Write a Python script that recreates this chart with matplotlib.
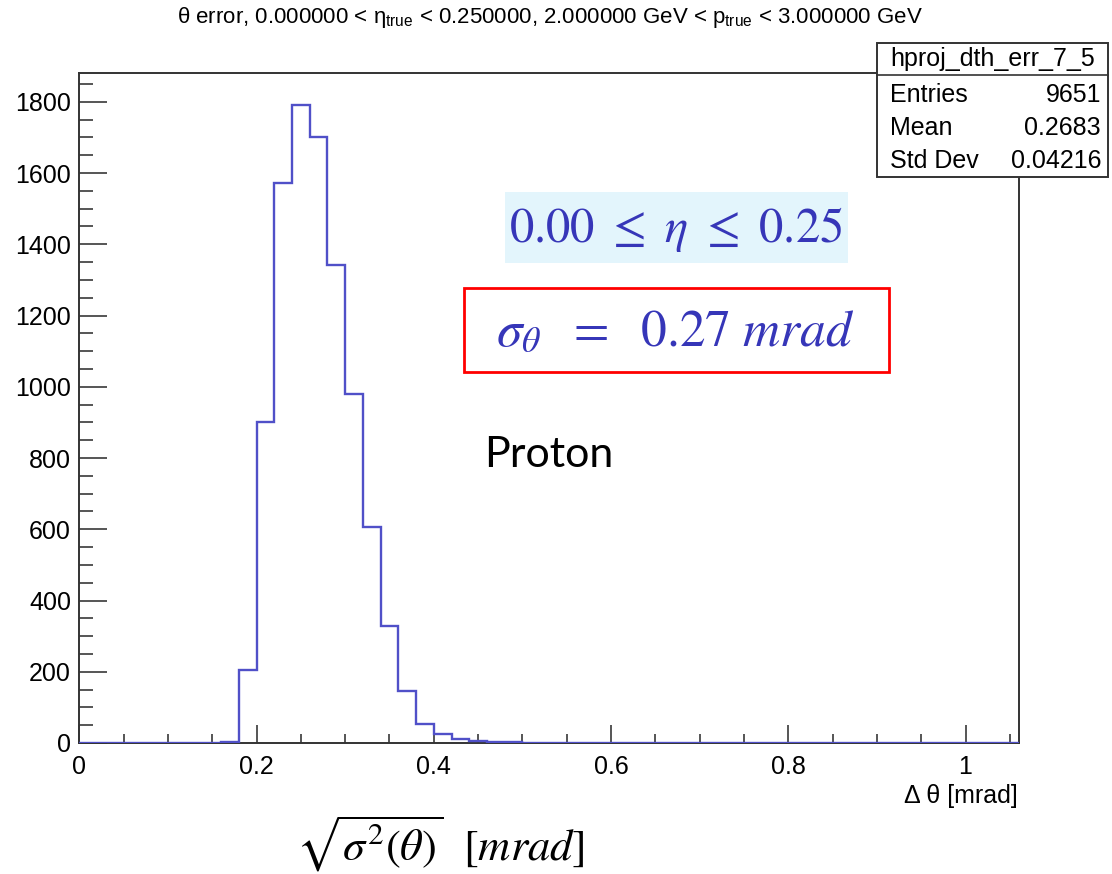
import numpy as np
import matplotlib
matplotlib.use("Agg")
import matplotlib.pyplot as plt
from matplotlib.patches import Rectangle
from matplotlib.lines import Line2D
from matplotlib.ticker import MultipleLocator

# Histogram data (bin width 0.02 mrad, range 0 - 1.06)
bin_width = 0.02
n_bins = 53
first_filled_bin = 8  # bin starting at 0.16
counts_filled = [4, 205, 902, 1572, 1792, 1702, 1343, 980, 606, 328,
                 145, 52, 25, 10, 6, 3, 2]

stats_name = "hproj_dth_err_7_5"
stats_rows = [("Entries", "9651"), ("Mean", "0.2683"), ("Std Dev", "0.04216")]

title = (r"θ error, 0.000000 < $\eta_{\rm true}$ < 0.250000, "
         r"2.000000 GeV < $p_{\rm true}$ < 3.000000 GeV")

plt.rcParams["font.family"] = ["Liberation Sans", "DejaVu Sans"]
plt.rcParams["mathtext.fontset"] = "custom"
plt.rcParams["mathtext.rm"] = "Liberation Sans"
plt.rcParams["mathtext.it"] = "Liberation Sans"

W, H = 1112, 874
fig = plt.figure(figsize=(W / 100, H / 100), dpi=100)


def fx(px):
    return px / W


def fy(py):
    return 1 - py / H


ax = fig.add_axes([fx(79.3), fy(743), fx(1018.7 - 79.3), (743 - 72.7) / H])

counts = np.zeros(n_bins)
counts[first_filled_bin:first_filled_bin + len(counts_filled)] = counts_filled
edges = np.arange(n_bins + 1) * bin_width

ax.stairs(counts, edges, color="#5050C8", lw=1.7, zorder=3)

ax.set_xlim(0, n_bins * bin_width)
ax.set_ylim(0, 1.05 * max(counts_filled))

ax.xaxis.set_major_locator(MultipleLocator(0.2))
ax.xaxis.set_minor_locator(MultipleLocator(0.05))
ax.yaxis.set_major_locator(MultipleLocator(200))
ax.yaxis.set_minor_locator(MultipleLocator(50))
ax.xaxis.set_major_formatter(plt.FuncFormatter(lambda v, p: f"{v:g}"))

for s in ax.spines.values():
    s.set_color("#333333")
    s.set_linewidth(1.4)

ax.tick_params(axis="both", which="both", direction="in", colors="#555555",
               labelcolor="black", labelsize=18, width=1.4)
ax.tick_params(axis="y", which="major", length=20, pad=6)
ax.tick_params(axis="y", which="minor", length=10)
ax.tick_params(axis="x", which="major", length=13, pad=9)
ax.tick_params(axis="x", which="minor", length=6.5)

fig.text(fx(550), fy(18), title, ha="center", va="center", fontsize=16)

fig.text(fx(1018), fy(796), "Δ θ [mrad]", ha="right", va="center", fontsize=18)

# stats box
box_l, box_r, box_t, box_b, sep = 877.3, 1108, 43.3, 176.7, 75
fig.patches.append(Rectangle((fx(box_l), fy(box_b)), fx(box_r - box_l), (box_b - box_t) / H,
                             transform=fig.transFigure, fc="white", ec="#333333",
                             lw=1.4, zorder=5))
fig.lines.append(Line2D([fx(box_l), fx(box_r)], [fy(sep), fy(sep)],
                        transform=fig.transFigure, color="#333333", lw=1.2, zorder=6))
fig.text(fx((box_l + box_r) / 2), fy(59), stats_name, ha="center", va="center",
         fontsize=18, zorder=7)
for i, (k, v) in enumerate(stats_rows):
    y = fy(95 + i * 33)
    fig.text(fx(890), y, k, ha="left", va="center", fontsize=18, zorder=7)
    fig.text(fx(1101), y, v, ha="right", va="center", fontsize=18, zorder=7)

# annotations
blue = "#3636B8"
fig.patches.append(Rectangle((fx(505), fy(263)), fx(848 - 505), (263 - 192) / H,
                             transform=fig.transFigure, fc="#E3F5FC", ec="none", zorder=4))
fig.text(fx(676), fy(229), r"$0.00\ \leq\ \eta\ \leq\ 0.25$", ha="center", va="center",
         fontsize=35, color=blue, math_fontfamily="stix", zorder=7)

fig.patches.append(Rectangle((fx(464), fy(372)), fx(889 - 464), (372 - 288) / H,
                             transform=fig.transFigure, fc="none", ec="#FF0000",
                             lw=2, zorder=4))
fig.text(fx(675), fy(333), r"$\sigma_\theta\ \ =\ \ 0.27\ mrad$", ha="center", va="center",
         fontsize=37, color=blue, math_fontfamily="stix", zorder=7)

fig.text(fx(549), fy(455), "Proton", ha="center", va="center", fontsize=31,
         family=["Lato", "DejaVu Sans"], color="black")

fig.text(fx(440), fy(861), r"$\sqrt{\sigma^2(\theta)}\ \ [mrad]$", ha="center",
         va="baseline", fontsize=32, math_fontfamily="stix", color="black")

fig.savefig("out.png", dpi=100)
